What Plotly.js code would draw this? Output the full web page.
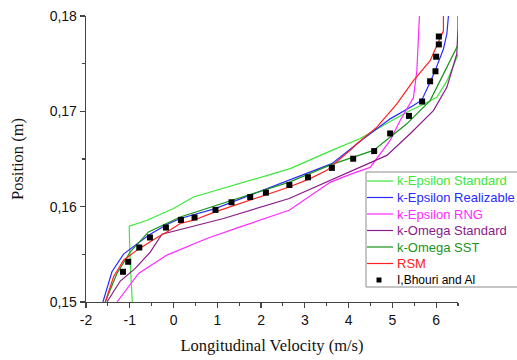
<!DOCTYPE html>
<html>
<head>
<meta charset="utf-8">
<script src="https://cdn.plot.ly/plotly-3.0.1.min.js"></script>
<style>html,body{margin:0;padding:0;background:#fff;}#chart{width:517px;height:360px;}</style>
</head>
<body>
<div id="chart"></div>
<script>
// ---- Data ----
const seriesNames = ['k-Epsilon Standard', 'k-Epsilon Realizable', 'k-Epsilon RNG', 'k-Omega Standard', 'k-Omega SST', 'RSM'];
const seriesColors = ['#3ae83a', '#2a2aff', '#ff2aff', '#8a1a8a', '#1a941a', '#ff2020'];
const expName = 'I,Bhouri and Al';

// k-Epsilon Standard
const kesX = [-0.943, -0.955, -0.982, -1.000, -1.012, -0.601, 0.000, 0.457, 1.752, 2.666, 3.618, 4.265, 4.950, 5.406, 5.749, 6.016, 6.251, 6.510];
const kesY = [0.15000, 0.15178, 0.15335, 0.15544, 0.15795, 0.15858, 0.15980, 0.16101, 0.16276, 0.16399, 0.16590, 0.16715, 0.16893, 0.17008, 0.17082, 0.17148, 0.17322, 0.17605];
// k-Epsilon Realizable
const kerX = [-1.613, -1.407, -1.142, -0.914, -0.571, -0.151, 0.153, 0.952, 2.643, 3.618, 4.340, 4.950, 5.482, 5.674, 5.863, 5.978, 6.167, 6.245, 6.281];
const kerY = [0.15000, 0.15317, 0.15502, 0.15578, 0.15701, 0.15813, 0.15876, 0.15980, 0.16276, 0.16451, 0.16712, 0.16921, 0.17061, 0.17120, 0.17304, 0.17427, 0.17654, 0.17811, 0.18000];
// k-Epsilon RNG
const rngX = [-1.293, -0.799, -0.151, 0.763, 1.524, 2.643, 3.579, 4.036, 4.493, 4.950, 5.178, 5.482, 5.560, 5.619];
const rngY = [0.15000, 0.15300, 0.15492, 0.15666, 0.15788, 0.15962, 0.16255, 0.16339, 0.16412, 0.16695, 0.16904, 0.17144, 0.17427, 0.18000];
// k-Omega Standard
const kosX = [-1.521, -1.217, -0.875, -0.532, -0.265, 0.381, 1.142, 2.643, 4.036, 4.874, 5.406, 5.939, 6.245, 6.473, 6.500, 6.500];
const kosY = [0.15000, 0.15220, 0.15353, 0.15523, 0.15711, 0.15784, 0.15876, 0.16085, 0.16373, 0.16538, 0.16765, 0.17008, 0.17252, 0.17601, 0.17880, 0.18000];
// k-Omega SST
const sstX = [-1.560, -1.293, -0.989, -0.571, 0.153, 0.763, 2.643, 3.618, 4.568, 5.331, 5.863, 6.092, 6.510];
const sstY = [0.15000, 0.15300, 0.15526, 0.15735, 0.15892, 0.15980, 0.16258, 0.16444, 0.16590, 0.16869, 0.17113, 0.17322, 0.17706];
// RSM
const rsmX = [-1.560, -1.370, -1.142, -0.836, -0.379, -0.151, 0.153, 0.457, 0.952, 1.752, 2.133, 2.643, 3.122, 3.504, 3.808, 4.036, 4.189, 4.646, 5.103, 5.482, 5.863, 6.167, 6.167];
const rsmY = [0.15000, 0.15265, 0.15439, 0.15544, 0.15677, 0.15735, 0.15823, 0.15858, 0.15945, 0.16067, 0.16127, 0.16206, 0.16294, 0.16381, 0.16503, 0.16590, 0.16660, 0.16834, 0.17079, 0.17322, 0.17531, 0.17845, 0.18000];
// Experimental (I,Bhouri and Al)
const expX = [-1.156, -1.035, -0.783, -0.539, -0.174, 0.169, 0.480, 0.959, 1.325, 1.752, 2.111, 2.647, 3.072, 3.618, 4.105, 4.584, 4.950, 5.379, 5.681, 5.863, 5.985, 6.001, 6.062, 6.062];
const expY = [0.15317, 0.15422, 0.15572, 0.15677, 0.15781, 0.15861, 0.15886, 0.15966, 0.16046, 0.16101, 0.16147, 0.16227, 0.16308, 0.16407, 0.16503, 0.16583, 0.16768, 0.16952, 0.17103, 0.17315, 0.17420, 0.17573, 0.17702, 0.17785];

// Tick labels
const xTickVals = [-2, -1, 0, 1, 2, 3, 4, 5, 6];
const xTickLabels = ['-2', '-1', '0', '1', '2', '3', '4', '5', '6'];
const yTickVals = [0.15, 0.16, 0.17, 0.18];
const yTickLabels = ['0,15', '0,16', '0,17', '0,18'];

// ---- Build chart ----
const seriesX = [kesX, kerX, rngX, kosX, sstX, rsmX];
const seriesY = [kesY, kerY, rngY, kosY, sstY, rsmY];

const traces = seriesNames.map((n, i) => ({
  type: 'scatter', mode: 'lines', name: n,
  x: seriesX[i], y: seriesY[i],
  line: {color: seriesColors[i], width: 1.2},
  showlegend: false
}));
traces.push({
  type: 'scatter', mode: 'markers', name: expName,
  x: expX, y: expY,
  marker: {symbol: 'square', size: 6, color: '#000'},
  showlegend: false
});

const W = 517, H = 360;
const M = {l: 86, r: 59, t: 16, b: 58};
const plotW = W - M.l - M.r, plotH = H - M.t - M.b;
const px2x = p => (p - M.l) / plotW;
const px2y = p => (H - M.b - p) / plotH;

// manual legend (Origin-style, compact)
const legLeft = 366, legTop = 172, legBottom = 287, legRight = 540;
const rowTop = 181, rowStep = 16.5;
const shapes = [{
  type: 'rect', xref: 'paper', yref: 'paper', layer: 'above',
  x0: px2x(legLeft), x1: px2x(legRight), y0: px2y(legBottom), y1: px2y(legTop),
  line: {color: '#8c8c8c', width: 1}, fillcolor: '#ffffff'
}];
const annotations = [];
const tickFont = 'Arial, "Liberation Sans", sans-serif';
seriesNames.forEach((n, i) => {
  const yy = px2y(rowTop + i * rowStep);
  shapes.push({type: 'line', xref: 'paper', yref: 'paper', layer: 'above',
    x0: px2x(367), x1: px2x(393), y0: yy, y1: yy,
    line: {color: seriesColors[i], width: 1.2}});
  annotations.push({xref: 'paper', yref: 'paper', x: px2x(395), y: yy,
    xanchor: 'left', yanchor: 'middle', showarrow: false, text: n,
    font: {family: tickFont, size: 13, color: seriesColors[i]}});
});
{
  const yy = px2y(rowTop + 6 * rowStep);
  const hs = 2.5;
  shapes.push({type: 'rect', xref: 'paper', yref: 'paper', layer: 'above',
    x0: px2x(379 - hs), x1: px2x(379 + hs), y0: px2y(rowTop + 6 * rowStep + hs), y1: px2y(rowTop + 6 * rowStep - hs),
    line: {width: 0}, fillcolor: '#000'});
  annotations.push({xref: 'paper', yref: 'paper', x: px2x(395), y: yy,
    xanchor: 'left', yanchor: 'middle', showarrow: false, text: expName,
    font: {family: tickFont, size: 12, color: '#000'}});
}

const axisCommon = {
  showgrid: false, zeroline: false, showline: true, linecolor: '#444', linewidth: 1.3,
  ticks: 'outside', ticklen: 5, tickwidth: 1.2, tickcolor: '#444',
  tickfont: {family: tickFont, size: 14, color: '#111'},
  tickmode: 'array', mirror: false, fixedrange: true
};

const layout = {
  width: W, height: H,
  margin: Object.assign({pad: 0, autoexpand: false}, M),
  paper_bgcolor: '#fff', plot_bgcolor: '#fff',
  showlegend: false,
  xaxis: Object.assign({}, axisCommon, {
    range: [-2, 6.5], tickvals: xTickVals, ticktext: xTickLabels,
    minor: {tickmode: 'linear', tick0: -2, dtick: 0.5, ticks: 'outside', ticklen: 3, tickwidth: 1.1, tickcolor: '#444'},
    title: {text: 'Longitudinal Velocity (m/s)', standoff: 12,
      font: {family: '"Times New Roman", "Liberation Serif", serif', size: 16.5, color: '#111'}}
  }),
  yaxis: Object.assign({}, axisCommon, {
    range: [0.15, 0.18], tickvals: yTickVals, ticktext: yTickLabels,
    minor: {tickmode: 'linear', tick0: 0.15, dtick: 0.005, ticks: 'outside', ticklen: 3, tickwidth: 1.1, tickcolor: '#444'},
    title: {text: 'Position (m)', standoff: 22,
      font: {family: '"Times New Roman", "Liberation Serif", serif', size: 16.5, color: '#111'}}
  }),
  shapes: shapes,
  annotations: annotations
};

Plotly.newPlot('chart', traces, layout, {displayModeBar: false, staticPlot: true});
</script>
</body>
</html>
